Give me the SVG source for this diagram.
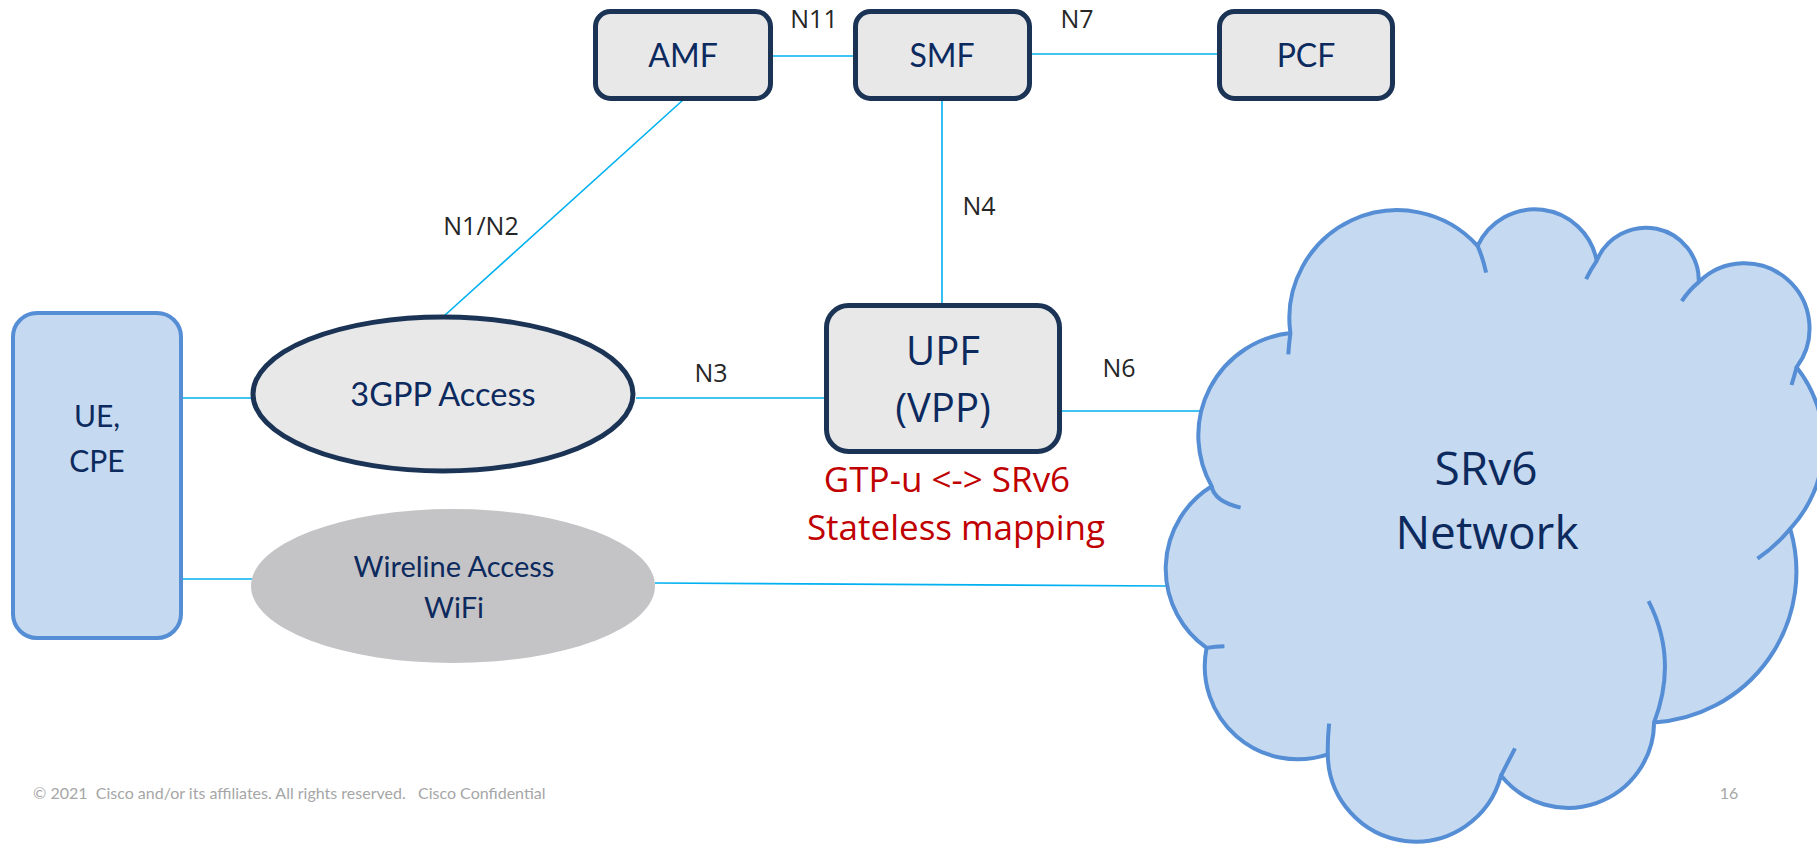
<svg xmlns="http://www.w3.org/2000/svg" width="1817" height="852" viewBox="0 0 1817 852">
  <style>
    .nf { fill: #E8E8E9; stroke: #1B3455; stroke-width: 5; }
    .link { stroke: #00B0F0; stroke-width: 1.6; fill: none; }
    .lbl { font-family: "Open Sans", "Noto Sans", sans-serif; font-size: 25px; fill: #262626; text-anchor: middle; }
    .nt { font-family: Lato, "Liberation Sans", sans-serif; fill: #0C2A5E; text-anchor: middle; }
    .big { font-family: "Open Sans", "Noto Sans", sans-serif; fill: #0C2A5E; text-anchor: middle; }
    .red { font-family: "Open Sans", "Noto Sans", sans-serif; font-size: 35px; fill: #C00000; text-anchor: middle; }
    .foot { font-family: Lato, "Liberation Sans", sans-serif; font-size: 16px; fill: #A6A6A6; white-space: pre; }
    .cloud { fill: #C5D9F0; stroke: #558ED5; stroke-width: 4; stroke-linejoin: round; }
    .hook { fill: none; stroke: #558ED5; stroke-width: 4; }
  </style>

  <rect width="1817" height="852" fill="#FFFFFF"/>

  <!-- connectors -->
  <g id="connectors">
    <line class="link" x1="772" y1="56" x2="855" y2="56"/>
    <line class="link" x1="1031" y1="54" x2="1219" y2="54"/>
    <line class="link" x1="683" y1="100" x2="444" y2="316"/>
    <line class="link" x1="942" y1="100" x2="942" y2="304"/>
    <line class="link" x1="183" y1="398" x2="251" y2="398"/>
    <line class="link" x1="636" y1="398" x2="825" y2="398"/>
    <line class="link" x1="1061" y1="411" x2="1205" y2="411"/>
    <line class="link" x1="183" y1="579" x2="252" y2="579"/>
    <line class="link" x1="655" y1="583" x2="1166" y2="586"/>
  </g>

  <!-- interface labels -->
  <g id="labels">
    <text class="lbl" x="814" y="28">N11</text>
    <text class="lbl" x="1077" y="28">N7</text>
    <text class="lbl" x="481" y="235">N1/N2</text>
    <text class="lbl" x="979" y="215">N4</text>
    <text class="lbl" x="711" y="382">N3</text>
    <text class="lbl" x="1119" y="377">N6</text>
  </g>

  <g id="amf">
    <rect class="nf" x="595.5" y="11.5" width="175" height="87" rx="15"/>
    <text class="nt" x="683" y="67" font-size="32">AMF</text>
  </g>

  <g id="smf">
    <rect class="nf" x="855.5" y="11.5" width="174" height="87" rx="15"/>
    <text class="nt" x="942" y="67" font-size="32">SMF</text>
  </g>

  <g id="pcf">
    <rect class="nf" x="1219.5" y="11.5" width="173" height="87" rx="15"/>
    <text class="nt" x="1306" y="67" font-size="32">PCF</text>
  </g>

  <g id="ue">
    <rect x="13" y="313" width="168" height="325" rx="24" fill="#C5D9F0" stroke="#558ED5" stroke-width="4"/>
    <text class="nt" x="97" y="427" font-size="30">UE,</text>
    <text class="nt" x="97" y="472" font-size="30">CPE</text>
  </g>

  <g id="access-3gpp">
    <ellipse class="nf" cx="443" cy="394" rx="190" ry="77"/>
    <text class="nt" x="443" y="406" font-size="32.5">3GPP Access</text>
  </g>

  <g id="access-wireline">
    <ellipse cx="453" cy="586" rx="202" ry="77" fill="#C4C4C6"/>
    <text class="nt" x="454" y="577" font-size="29">Wireline Access</text>
    <text class="nt" x="454" y="618" font-size="29">WiFi</text>
  </g>

  <g id="upf">
    <rect class="nf" x="826.5" y="305.5" width="233" height="146" rx="22"/>
    <text class="big" x="943" y="365" font-size="40">UPF</text>
    <text class="big" x="943" y="422" font-size="40">(VPP)</text>
  </g>

  <g id="upf-note">
    <text class="red" x="947" y="492">GTP-u &lt;-&gt; SRv6</text>
    <text class="red" x="956" y="540" font-size="36.5">Stateless mapping</text>
  </g>

  <g id="srv6-network">
    <path class="cloud" d="M 1211.7 486.3
      A 103 103 0 0 1 1290.4 333.1
      A 108 108 0 0 1 1477.6 245.9
      A 63 63 0 0 1 1596.7 260.8
      A 53 53 0 0 1 1698.8 282.1
      A 65 65 0 0 1 1796.6 367.2
      A 124 124 0 0 1 1790.2 528.8
      A 151 151 0 0 1 1654.1 722.4
      A 86 86 0 0 1 1501 775.6
      A 88 88 0 0 1 1327.8 754.3
      A 93 93 0 0 1 1206.6 647.9
      A 97 97 0 0 1 1211.7 486.3 Z"/>
    <path class="hook" d="M 1290.4 333.1 Q 1289 343 1288.3 354.4
      M 1477.6 245.9 Q 1483 258 1486.1 272.7
      M 1596.7 260.8 Q 1591 269 1586.1 279.1
      M 1698.8 282.1 Q 1689 290 1681.8 301.2
      M 1796.6 367.2 Q 1794 377 1791.5 385
      M 1790.2 528.8 Q 1776 546 1757.5 558.6
      M 1654.1 722.4 Q 1678.3 659.5 1648.6 601.1
      M 1501 775.6 Q 1508 762 1515 748.4
      M 1327.8 754.3 Q 1327.5 740 1329.1 723.6
      M 1206.6 647.9 Q 1215 646.5 1224.4 646.2
      M 1211.7 486.3 Q 1214.2 501.2 1240.6 507.6"/>
    <text class="big" x="1486" y="485" font-size="46">SRv6</text>
    <text class="big" x="1487" y="549" font-size="46">Network</text>
  </g>

  <g id="footer">
    <text class="foot" x="33" y="799" xml:space="preserve">© 2021  Cisco and/or its affiliates. All rights reserved.   Cisco Confidential</text>
    <text class="foot" x="1729" y="799" text-anchor="middle">16</text>
  </g>
</svg>
